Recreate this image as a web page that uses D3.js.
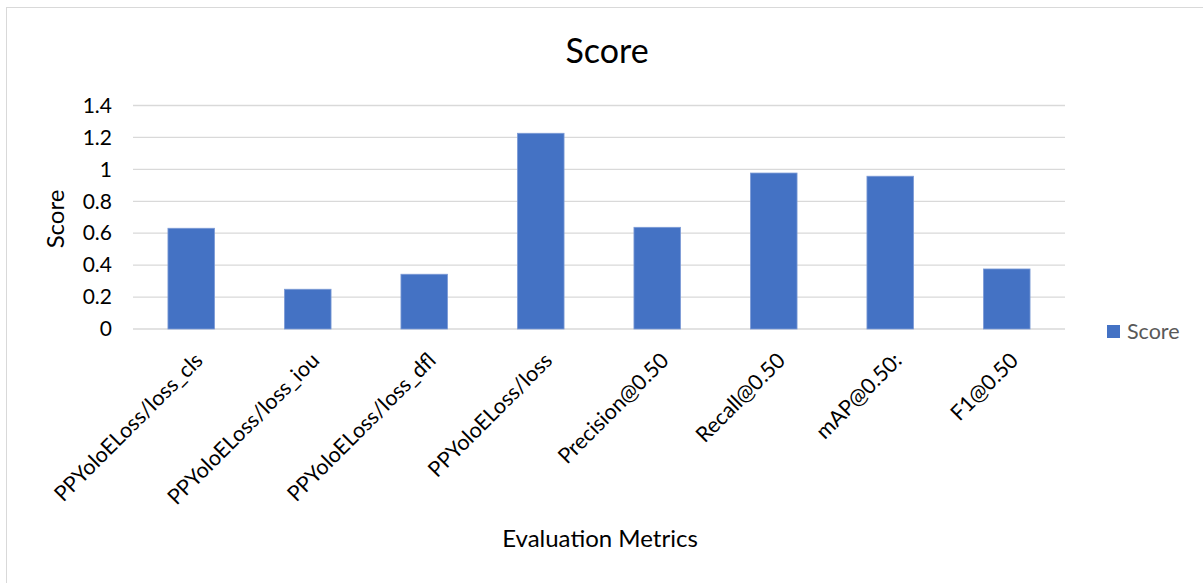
<!DOCTYPE html>
<html>
<head>
<meta charset="utf-8">
<script src="https://cdn.jsdelivr.net/npm/d3@7"></script>
<style>
  body { margin: 0; background: #fff; }
  text { font-family: Lato, "Open Sans", sans-serif; }
</style>
</head>
<body>
<svg id="chart"></svg>
<script>
var categories = ['PPYoloELoss/loss_cls', 'PPYoloELoss/loss_iou', 'PPYoloELoss/loss_dfl',
  'PPYoloELoss/loss', 'Precision@0.50', 'Recall@0.50', 'mAP@0.50:', 'F1@0.50'];
var scores = [0.631, 0.249, 0.343, 1.226, 0.637, 0.977, 0.957, 0.376];
var yTicks = [0, 0.2, 0.4, 0.6, 0.8, 1, 1.2, 1.4];

var width = 1203, height = 583;
var plotLeft = 133, plotRight = 1065, plotTop = 105.5, plotBottom = 329;

var svg = d3.select('#chart')
  .attr('width', width)
  .attr('height', height);

// chart frame
svg.append('rect')
  .attr('x', 6.5).attr('y', 7.5)
  .attr('width', 1210).attr('height', 600)
  .attr('fill', '#fff')
  .attr('stroke', '#d9d9d9');

var x = d3.scaleBand().domain(categories).range([plotLeft, plotRight]).paddingInner(0.6).paddingOuter(0.3);
var y = d3.scaleLinear().domain([0, 1.4]).range([plotBottom, plotTop]);

// gridlines
svg.append('g')
  .selectAll('line').data(yTicks)
  .enter().append('line')
    .attr('x1', plotLeft).attr('x2', plotRight)
    .attr('y1', function (d){ return y(d); })
    .attr('y2', function (d){ return y(d); })
    .attr('stroke', '#d9d9d9')
    .attr('stroke-width', 1.3);

// y axis labels
var yAxis = d3.axisLeft(y).tickValues(yTicks).tickSize(0).tickPadding(0)
  .tickFormat(function (d){ return d3.format('')(+d.toFixed(1)); });
var yg = svg.append('g').attr('transform', 'translate(112,0)').call(yAxis);
yg.select('.domain').remove();
yg.selectAll('text').attr('font-size', 21).attr('fill', '#000')
  .attr('font-family', 'Lato, sans-serif');

// bars
svg.append('g')
  .selectAll('rect').data(scores)
  .enter().append('rect')
    .attr('x', function (d, i){ return x(categories[i]); })
    .attr('width', x.bandwidth())
    .attr('y', function (d){ return y(d); })
    .attr('height', function (d){ return y(0) - y(d); })
    .attr('fill', '#4472c4')
    .attr('stroke', '#7d9bd6')
    .attr('stroke-width', 0.8);

// x axis labels, rotated
var xAxis = d3.axisBottom(x).tickSize(0).tickPadding(0);
var xg = svg.append('g').attr('transform', 'translate(0,' + plotBottom + ')').call(xAxis);
xg.select('.domain').remove();
xg.selectAll('text')
  .attr('font-size', 21.5)
  .attr('fill', '#000')
  .attr('font-family', 'Lato, sans-serif')
  .attr('text-anchor', 'end')
  .attr('dy', null)
  .attr('y', 0)
  .attr('transform', 'translate(1,21) rotate(-45)')
  .attr('dominant-baseline', 'hanging');

// title
svg.append('text')
  .attr('x', 607).attr('y', 63)
  .attr('text-anchor', 'middle')
  .attr('font-size', 34)
  .attr('fill', '#000')
  .text('Score');

// axis titles
svg.append('text')
  .attr('transform', 'translate(64,219) rotate(-90)')
  .attr('text-anchor', 'middle')
  .attr('font-size', 24)
  .attr('fill', '#000')
  .text('Score');

svg.append('text')
  .attr('x', 600).attr('y', 547)
  .attr('text-anchor', 'middle')
  .attr('font-size', 24)
  .attr('fill', '#000')
  .text('Evaluation Metrics');

// legend
var legend = svg.append('g').attr('transform', 'translate(1107,325)');
legend.append('rect').attr('x', 0).attr('y', 0).attr('width', 13).attr('height', 13)
  .attr('fill', '#4472c4');
legend.append('text').attr('x', 20).attr('y', 14)
  .attr('font-size', 21.5).attr('fill', '#595959').text('Score');
</script>
</body>
</html>
